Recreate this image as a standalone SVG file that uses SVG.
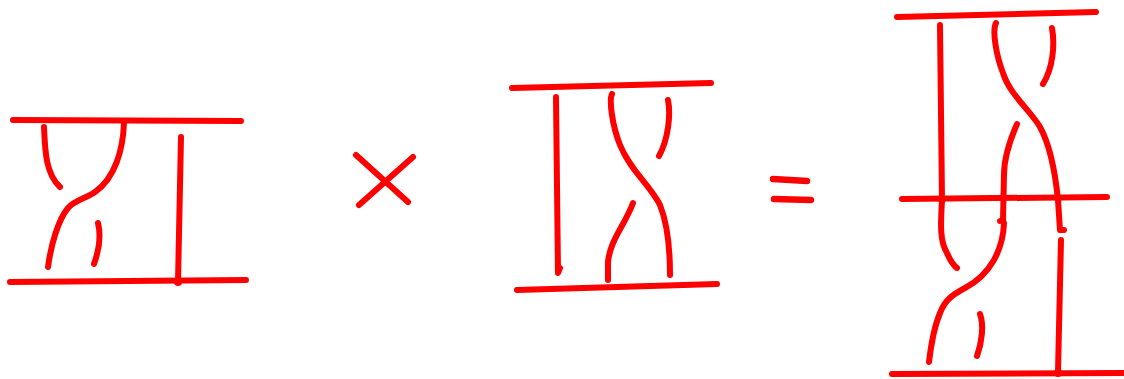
<svg xmlns="http://www.w3.org/2000/svg" width="1124" height="379" viewBox="0 0 1124 379">
<style>
.s{fill:none;stroke:#ff0000;stroke-width:6;stroke-linecap:round;stroke-linejoin:round}
.t{fill:none;stroke:#ff0000;stroke-width:6.5;stroke-linecap:round}
.d{fill:#ff0000}
</style>
<rect width="1124" height="379" fill="#ffffff"/>
<g id="braid-left">
<path class="s" d="M13,120 L241,121"/>
<path class="s" d="M10,282 L246,280"/>
<path class="s" d="M44,127 C45,152 46,174 60,187"/>
<path class="s" d="M124,123 C123,150 115,178 95,192 C85,199 75,200 68,208 C58,220 51,245 48,267"/>
<path class="s" d="M98,223 C101,235 99,250 94,264"/>
<path class="s" d="M181,137 L178,282"/>
<circle class="d" cx="178" cy="282" r="4"/>
</g>
<g id="times">
<path class="s" d="M356,155 L408,202 M413,157 L359,205"/>
</g>
<g id="braid-middle">
<path class="s" d="M512,88 L711,83"/>
<path class="s" d="M517,290 L717,284"/>
<path class="s" d="M556,97 L558,273 L560,268"/>
<path class="s" d="M612,94 C609,100 612,125 620,145 C630,170 650,185 660,205 C668,225 670,255 670,275"/>
<path class="s" d="M668,100 C671,115 668,140 659,156"/>
<path class="s" d="M633,203 C625,225 610,240 608,262 L608,280"/>
</g>
<g id="equals">
<path class="t" d="M773,179 L807,181 M774,199 L811,200"/>
</g>
<g id="braid-product">
<path class="s" d="M897,17 L1096,12"/>
<path class="s" d="M902,199 L1107,197"/>
<path class="s" d="M892,374 L1123,373"/>
<path class="s" d="M940,25 C941,100 942,170 942,200 C941,220 939,240 947,253 C950,260 953,265 957,268"/>
<path class="s" d="M996,23 C992,30 996,55 1003,73 C1010,95 1030,110 1040,127 C1050,145 1055,170 1058,200 L1060,230 L1064,230 M1061,240 L1058,372"/>
<path class="s" d="M1052,28 C1055,45 1053,68 1043,84"/>
<path class="s" d="M1017,124 C1010,140 1004,160 1004,175 L1003,220 L1000,221"/>
<path class="s" d="M1004,223 C1003,250 990,275 965,288 C952,295 945,300 940,313 C935,325 931,345 929,362"/>
<path class="s" d="M980,314 C984,325 982,342 977,356"/>
<circle class="d" cx="942" cy="199" r="4"/>
<circle class="d" cx="1058" cy="373" r="4"/>
</g>
</svg>
